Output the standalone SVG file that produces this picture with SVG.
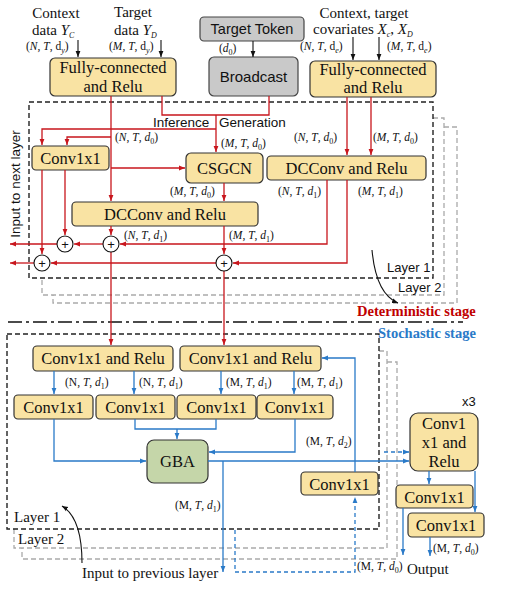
<svg xmlns="http://www.w3.org/2000/svg" width="506" height="603" viewBox="0 0 506 603">
<style>
.box{fill:#F9E3A3;stroke:#333;stroke-width:1.2}
.gray{fill:#C9C9C9;stroke:#444;stroke-width:1.2}
.gba{fill:#C5D6A9;stroke:#333;stroke-width:1.2}
.bt{font-family:"Liberation Serif",serif;font-size:16.5px;fill:#111;text-anchor:middle}
.st{font-family:"Liberation Sans",sans-serif;fill:#111}
.lab{font-family:"Liberation Serif",serif;font-size:15px;fill:#111}
.m{font-family:"Liberation Serif",serif;font-size:11.5px;fill:#111}
.i{font-style:italic}
.s{font-size:8px}
.red{fill:none;stroke:#C8161D;stroke-width:1.3}
.blue{fill:none;stroke:#2A7AC8;stroke-width:1.3}
.blk{fill:none;stroke:#111;stroke-width:1.1}
.dash{stroke-dasharray:4,3}
.lay1{fill:none;stroke:#222;stroke-width:1.4;stroke-dasharray:5,3}
.lay2{fill:none;stroke:#AAA;stroke-width:1.3;stroke-dasharray:5,3}
.circ{fill:#fff;stroke:#111;stroke-width:1.1}
</style>
<defs>
<marker id="ar" viewBox="0 0 10 10" refX="10" refY="5" markerWidth="6" markerHeight="6" markerUnits="userSpaceOnUse" orient="auto"><path d="M0,1 L10,5 L0,9 z" fill="#C8161D"/></marker>
<marker id="ab" viewBox="0 0 10 10" refX="10" refY="5" markerWidth="6" markerHeight="6" markerUnits="userSpaceOnUse" orient="auto"><path d="M0,1 L10,5 L0,9 z" fill="#2A7AC8"/></marker>
<marker id="ak" viewBox="0 0 10 10" refX="10" refY="5" markerWidth="6" markerHeight="6" markerUnits="userSpaceOnUse" orient="auto"><path d="M0,1 L10,5 L0,9 z" fill="#111"/></marker>
</defs>
<rect width="506" height="603" fill="#fff"/>

<!-- layer frames -->
<g id="frames">
<polyline class="lay2" points="444,127 457,127 457,303 53,303 53,295"/>
<polyline class="lay2" points="433,118 444,118 444,295 42,295 42,278"/>
<rect class="lay1" x="29" y="102" width="404" height="176"/>
<line x1="8" y1="322" x2="463" y2="322" stroke="#111" stroke-width="1.6" stroke-dasharray="14,4,3,4"/>
<polyline class="lay2" points="387,362 397,362 397,559 22,559 22,548"/>
<polyline class="lay2" points="379,351 387,351 387,548 14,548 14,529"/>
<rect class="lay1" x="7" y="334" width="372" height="195"/>
</g>

<!-- top input texts -->
<g id="inputs">
<text class="lab" x="56" y="18" text-anchor="middle">Context</text>
<text class="lab" x="32" y="35">data <tspan class="i">Y</tspan><tspan class="i s" dy="3">C</tspan></text>
<text class="m" x="26" y="50">(<tspan class="i">N</tspan>, <tspan class="i">T</tspan>, d<tspan class="i s" dy="2.5">y</tspan><tspan dy="-2.5">)</tspan></text>
<text class="lab" x="133" y="17" text-anchor="middle">Target</text>
<text class="lab" x="114" y="35">data <tspan class="i">Y</tspan><tspan class="i s" dy="3">D</tspan></text>
<text class="m" x="109" y="50">(<tspan class="i">M</tspan>, <tspan class="i">T</tspan>, d<tspan class="i s" dy="2.5">y</tspan><tspan dy="-2.5">)</tspan></text>
<text class="lab" x="364" y="18" text-anchor="middle">Context, target</text>
<text class="lab" x="313" y="34">covariates <tspan class="i">X</tspan><tspan class="i s" dy="3">c</tspan><tspan dy="-3">, </tspan><tspan class="i">X</tspan><tspan class="i s" dy="3">D</tspan></text>
<text class="m" x="300" y="50">(<tspan class="i">N</tspan>, <tspan class="i">T</tspan>, d<tspan class="i s" dy="2.5">e</tspan><tspan dy="-2.5">)</tspan></text>
<text class="m" x="387" y="50">(<tspan class="i">M</tspan>, <tspan class="i">T</tspan>, d<tspan class="i s" dy="2.5">e</tspan><tspan dy="-2.5">)</tspan></text>
<text class="m" x="219" y="52">(<tspan class="i">d</tspan><tspan class="s" dy="2.5">0</tspan><tspan dy="-2.5">)</tspan></text>
</g>

<g id="fc_left"><rect class="box" x="50" y="58" width="126" height="38" rx="5"/><text class="bt" x="113" y="73">Fully-connected</text><text class="bt" x="113" y="92">and Relu</text></g>
<g id="target_token"><rect class="gray" x="200" y="17" width="104" height="24" rx="4"/><text class="st" x="252" y="34" font-size="14.5" text-anchor="middle">Target Token</text></g>
<g id="broadcast"><rect class="gray" x="209" y="57" width="89" height="39" rx="5"/><text class="st" x="253.5" y="82" font-size="15" text-anchor="middle">Broadcast</text></g>
<g id="fc_right"><rect class="box" x="310" y="61" width="126" height="36" rx="5"/><text class="bt" x="373" y="75">Fully-connected</text><text class="bt" x="373" y="93">and Relu</text></g>

<g id="conv_det"><rect class="box" x="32" y="146" width="77" height="24" rx="4"/><text class="bt" x="70.5" y="164">Conv1x1</text></g>
<g id="csgcn"><rect class="box" x="186" y="153" width="77" height="30" rx="5"/><text class="bt" x="224.5" y="174">CSGCN</text></g>
<g id="dcconv_mid"><rect class="box" x="72" y="202" width="186" height="24" rx="4"/><text class="bt" x="165" y="220">DCConv and Relu</text></g>
<g id="dcconv_right"><rect class="box" x="267" y="156" width="159" height="24" rx="4"/><text class="bt" x="346.5" y="174">DCConv and Relu</text></g>

<g id="cr_left"><rect class="box" x="33" y="346" width="140" height="25" rx="4"/><text class="bt" x="103" y="364">Conv1x1 and Relu</text></g>
<g id="cr_right"><rect class="box" x="180" y="346" width="141" height="25" rx="4"/><text class="bt" x="250.5" y="364">Conv1x1 and Relu</text></g>
<g id="c1"><rect class="box" x="14" y="395" width="79" height="24" rx="4"/><text class="bt" x="53.5" y="413">Conv1x1</text></g>
<g id="c2"><rect class="box" x="96" y="395" width="79" height="24" rx="4"/><text class="bt" x="135.5" y="413">Conv1x1</text></g>
<g id="c3"><rect class="box" x="177" y="395" width="79" height="24" rx="4"/><text class="bt" x="216.5" y="413">Conv1x1</text></g>
<g id="c4"><rect class="box" x="257" y="395" width="76" height="24" rx="4"/><text class="bt" x="295" y="413">Conv1x1</text></g>
<g id="gba"><rect class="gba" x="147" y="440" width="61" height="43" rx="7"/><text class="bt" x="177.5" y="467">GBA</text></g>
<g id="c5"><rect class="box" x="301" y="472" width="77" height="23" rx="4"/><text class="bt" x="339.5" y="490">Conv1x1</text></g>
<g id="big"><rect class="box" x="410" y="413" width="68" height="58" rx="8"/><text class="bt" x="444" y="429">Conv1</text><text class="bt" x="444" y="448">x1 and</text><text class="bt" x="444" y="467">Relu</text></g>
<g id="o1"><rect class="box" x="396" y="485" width="77" height="23" rx="4"/><text class="bt" x="434.5" y="503">Conv1x1</text></g>
<g id="o2"><rect class="box" x="408" y="513" width="76" height="24" rx="4"/><text class="bt" x="446" y="531">Conv1x1</text></g>

<g id="connectors">
<!-- black inputs -->
<path class="blk" d="M78,40 V57" marker-end="url(#ak)"/>
<path class="blk" d="M161,40 V57" marker-end="url(#ak)"/>
<path class="blk" d="M253,41 V57" marker-end="url(#ak)"/>
<path class="blk" d="M353,37 V60" marker-end="url(#ak)"/>
<path class="blk" d="M379,37 V60" marker-end="url(#ak)"/>
<!-- red deterministic -->
<path class="red" d="M111,96 V201" marker-end="url(#ar)"/>
<path class="red" d="M162,96 V115 H269 V96"/>
<path class="red" d="M216,115 V152" marker-end="url(#ar)"/>
<path class="red" d="M216,129 H42 V145" marker-end="url(#ar)"/>
<path class="red" d="M111,137 H67 V145" marker-end="url(#ar)"/>
<path class="red" d="M111,168 H185" marker-end="url(#ar)"/>
<path class="red" d="M224,183 V201" marker-end="url(#ar)"/>
<path class="red" d="M347,97 V155" marker-end="url(#ar)"/>
<path class="red" d="M371,97 V155" marker-end="url(#ar)"/>
<path class="red" d="M327,180 V244 H120" marker-end="url(#ar)"/>
<path class="red" d="M103,244 H74" marker-end="url(#ar)"/>
<path class="red" d="M57,244 H10" marker-end="url(#ar)"/>
<path class="red" d="M347,180 V263 H233" marker-end="url(#ar)"/>
<path class="red" d="M216,263 H51" marker-end="url(#ar)"/>
<path class="red" d="M34,263 H10" marker-end="url(#ar)"/>
<path class="red" d="M42,170 V254" marker-end="url(#ar)"/>
<path class="red" d="M65,170 V235" marker-end="url(#ar)"/>
<path class="red" d="M111,226 V235" marker-end="url(#ar)"/>
<path class="red" d="M224,226 V254" marker-end="url(#ar)"/>
<path class="red" d="M111,252 V345" marker-end="url(#ar)"/>
<path class="red" d="M224,271 V345" marker-end="url(#ar)"/>
<!-- blue stochastic -->
<path class="blue" d="M54,371 V394" marker-end="url(#ab)"/>
<path class="blue" d="M134,371 V394" marker-end="url(#ab)"/>
<path class="blue" d="M221,371 V394" marker-end="url(#ab)"/>
<path class="blue" d="M294,371 V394" marker-end="url(#ab)"/>
<path class="blue" d="M54,419 V461 H146" marker-end="url(#ab)"/>
<path class="blue" d="M135,419 V429 H216 V419"/>
<path class="blue" d="M177,429 V439" marker-end="url(#ab)"/>
<path class="blue" d="M295,419 V452 H209" marker-end="url(#ab)"/>
<path class="blue" d="M208,461 H409" stroke-width="2" marker-end="url(#ab)"/>
<path class="blue" d="M223,461 V572" marker-end="url(#ab)"/>
<path class="blue" d="M355,472 V358 H322" marker-end="url(#ab)"/>
<path class="blue dash" d="M384,452 H409" marker-end="url(#ab)"/>
<path class="blue dash" d="M235,530 V572 H355 V497" marker-end="url(#ab)"/>
<path class="blue" d="M429,471 V484" marker-end="url(#ab)"/>
<path class="blue" d="M475,471 V512" marker-end="url(#ab)"/>
<path class="blue" d="M403,508 V555" marker-end="url(#ab)"/>
<path class="blue" d="M430,537 V556" marker-end="url(#ab)"/>
<!-- layer curves -->
<path class="blk" d="M372,250 Q376,294 398,303" marker-end="url(#ak)"/>
<path class="blk" d="M82,563 Q82,518 62,506" marker-end="url(#ak)"/>
</g>

<g id="adders">
<circle class="circ" cx="65" cy="244" r="8"/><text class="st" x="65" y="249" font-size="13" text-anchor="middle">+</text>
<circle class="circ" cx="111" cy="244" r="8"/><text class="st" x="111" y="249" font-size="13" text-anchor="middle">+</text>
<circle class="circ" cx="42" cy="263" r="8"/><text class="st" x="42" y="268" font-size="13" text-anchor="middle">+</text>
<circle class="circ" cx="224" cy="263" r="8"/><text class="st" x="224" y="268" font-size="13" text-anchor="middle">+</text>
</g>

<g id="labels">
<text class="st" x="153" y="127" font-size="13.5">Inference</text>
<text class="st" x="219" y="127" font-size="13.5">Generation</text>
<text class="st" x="20" y="184" font-size="13.5" text-anchor="middle" transform="rotate(-90 20 184)">Input to next layer</text>
<text class="m" x="115" y="141">(<tspan class="i">N</tspan>, <tspan class="i">T</tspan>, <tspan class="i">d</tspan><tspan class="s" dy="2.5">0</tspan><tspan dy="-2.5">)</tspan></text>
<text class="m" x="221" y="147">(<tspan class="i">M</tspan>, <tspan class="i">T</tspan>, <tspan class="i">d</tspan><tspan class="s" dy="2.5">0</tspan><tspan dy="-2.5">)</tspan></text>
<text class="m" x="294" y="141">(<tspan class="i">N</tspan>, <tspan class="i">T</tspan>, <tspan class="i">d</tspan><tspan class="s" dy="2.5">0</tspan><tspan dy="-2.5">)</tspan></text>
<text class="m" x="373" y="141">(<tspan class="i">M</tspan>, <tspan class="i">T</tspan>, <tspan class="i">d</tspan><tspan class="s" dy="2.5">0</tspan><tspan dy="-2.5">)</tspan></text>
<text class="m" x="170" y="195">(<tspan class="i">M</tspan>, <tspan class="i">T</tspan>, <tspan class="i">d</tspan><tspan class="s" dy="2.5">0</tspan><tspan dy="-2.5">)</tspan></text>
<text class="m" x="278" y="195">(<tspan class="i">N</tspan>, <tspan class="i">T</tspan>, <tspan class="i">d</tspan><tspan class="s" dy="2.5">1</tspan><tspan dy="-2.5">)</tspan></text>
<text class="m" x="358" y="195">(<tspan class="i">M</tspan>, <tspan class="i">T</tspan>, <tspan class="i">d</tspan><tspan class="s" dy="2.5">1</tspan><tspan dy="-2.5">)</tspan></text>
<text class="m" x="124" y="239">(<tspan class="i">N</tspan>, <tspan class="i">T</tspan>, <tspan class="i">d</tspan><tspan class="s" dy="2.5">1</tspan><tspan dy="-2.5">)</tspan></text>
<text class="m" x="229" y="239">(<tspan class="i">M</tspan>, <tspan class="i">T</tspan>, <tspan class="i">d</tspan><tspan class="s" dy="2.5">1</tspan><tspan dy="-2.5">)</tspan></text>
<text class="st" x="387" y="272" font-size="13">Layer 1</text>
<text class="st" x="398" y="292" font-size="13">Layer 2</text>
<text x="357" y="316" font-family="Liberation Serif,serif" font-weight="bold" font-size="14.5" fill="#C00000">Deterministic stage</text>
<text x="378" y="338" font-family="Liberation Serif,serif" font-weight="bold" font-size="14.5" fill="#2A7AC8">Stochastic stage</text>
<text class="m" x="65" y="386">(N, <tspan class="i">T</tspan>, <tspan class="i">d</tspan><tspan class="s" dy="2.5">1</tspan><tspan dy="-2.5">)</tspan></text>
<text class="m" x="139" y="386">(N, <tspan class="i">T</tspan>, <tspan class="i">d</tspan><tspan class="s" dy="2.5">1</tspan><tspan dy="-2.5">)</tspan></text>
<text class="m" x="226" y="386">(M, <tspan class="i">T</tspan>, <tspan class="i">d</tspan><tspan class="s" dy="2.5">1</tspan><tspan dy="-2.5">)</tspan></text>
<text class="m" x="297" y="386">(M, <tspan class="i">T</tspan>, <tspan class="i">d</tspan><tspan class="s" dy="2.5">1</tspan><tspan dy="-2.5">)</tspan></text>
<text class="m" x="306" y="445">(M, <tspan class="i">T</tspan>, <tspan class="i">d</tspan><tspan class="s" dy="2.5">2</tspan><tspan dy="-2.5">)</tspan></text>
<text class="m" x="175" y="509">(M, <tspan class="i">T</tspan>, <tspan class="i">d</tspan><tspan class="s" dy="2.5">1</tspan><tspan dy="-2.5">)</tspan></text>
<text class="m" x="357" y="570">(M, <tspan class="i">T</tspan>, <tspan class="i">d</tspan><tspan class="s" dy="2.5">0</tspan><tspan dy="-2.5">)</tspan></text>
<text class="m" x="433" y="552">(M, <tspan class="i">T</tspan>, <tspan class="i">d</tspan><tspan class="s" dy="2.5">0</tspan><tspan dy="-2.5">)</tspan></text>
<text class="st" x="462" y="406" font-size="13">x3</text>
<text class="lab" x="14" y="522">Layer 1</text>
<text class="lab" x="18" y="544">Layer 2</text>
<text class="lab" x="82" y="578">Input to previous layer</text>
<text class="lab" x="407" y="574">Output</text>
</g>
</svg>
